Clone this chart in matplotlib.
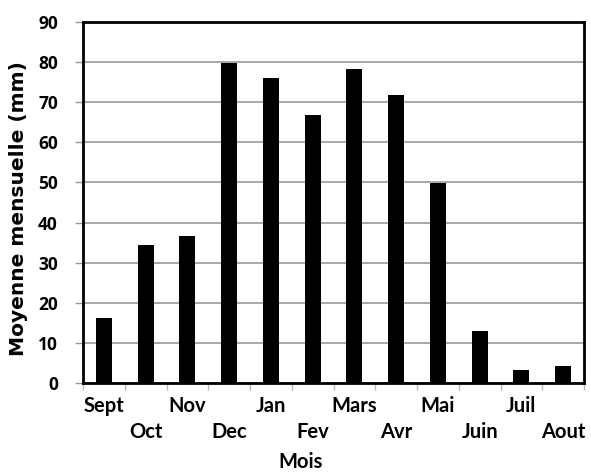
import matplotlib
matplotlib.use("Agg")
import matplotlib.pyplot as plt
import numpy as np

months = ["Sept", "Oct", "Nov", "Dec", "Jan", "Fev", "Mars", "Avr", "Mai", "Juin", "Juil", "Aout"]
values = [16.1, 34.4, 36.7, 79.9, 76.0, 66.8, 78.3, 71.8, 49.8, 13.0, 3.2, 4.2]
yticks = [0, 10, 20, 30, 40, 50, 60, 70, 80, 90]

fig = plt.figure(figsize=(5.91, 4.73), dpi=100)
ax = fig.add_axes([83/591, 1-383/473, (584-83)/591, (383-22)/473])

x = np.arange(len(months))
ax.bar(x, values, width=0.38, color="black", zorder=3)
ax.set_xlim(-0.5, len(months)-0.5)
ax.set_ylim(0, 90)
ax.set_yticks(yticks)
ax.yaxis.grid(True, color="#999999", linewidth=1.2, zorder=0)
ax.set_axisbelow(True)

for s in ax.spines.values():
    s.set_linewidth(2)
    s.set_color("black")

tickfont = dict(family="Lato", weight="bold", size=14.5)
ax.set_yticklabels([str(v) for v in yticks], fontdict=dict(family="Open Sans", weight="bold", size=12.5))
ax.tick_params(axis="y", length=6, width=1, color="#999999", pad=12)

ax.set_xticks(x)
labels = [m if i % 2 == 0 else "\n" + m for i, m in enumerate(months)]
ax.set_xticklabels(labels, fontdict=tickfont, linespacing=1.4)
ax.tick_params(axis="x", which="major", length=0, pad=9)
ax.set_xticks(np.arange(len(months)+1) - 0.5, minor=True)
ax.tick_params(axis="x", which="minor", length=5, width=1, color="#bbbbbb")

fig.text(301/591, 1-462/473, "Mois", ha="center", va="center", family="Lato", weight="bold", size=14.5)
fig.text(19/591, 1-209/473, "Moyenne mensuelle (mm)", rotation=90, ha="center", va="center",
         family="DejaVu Sans", weight="bold", size=14.5)

fig.savefig("out.png", dpi=100)
